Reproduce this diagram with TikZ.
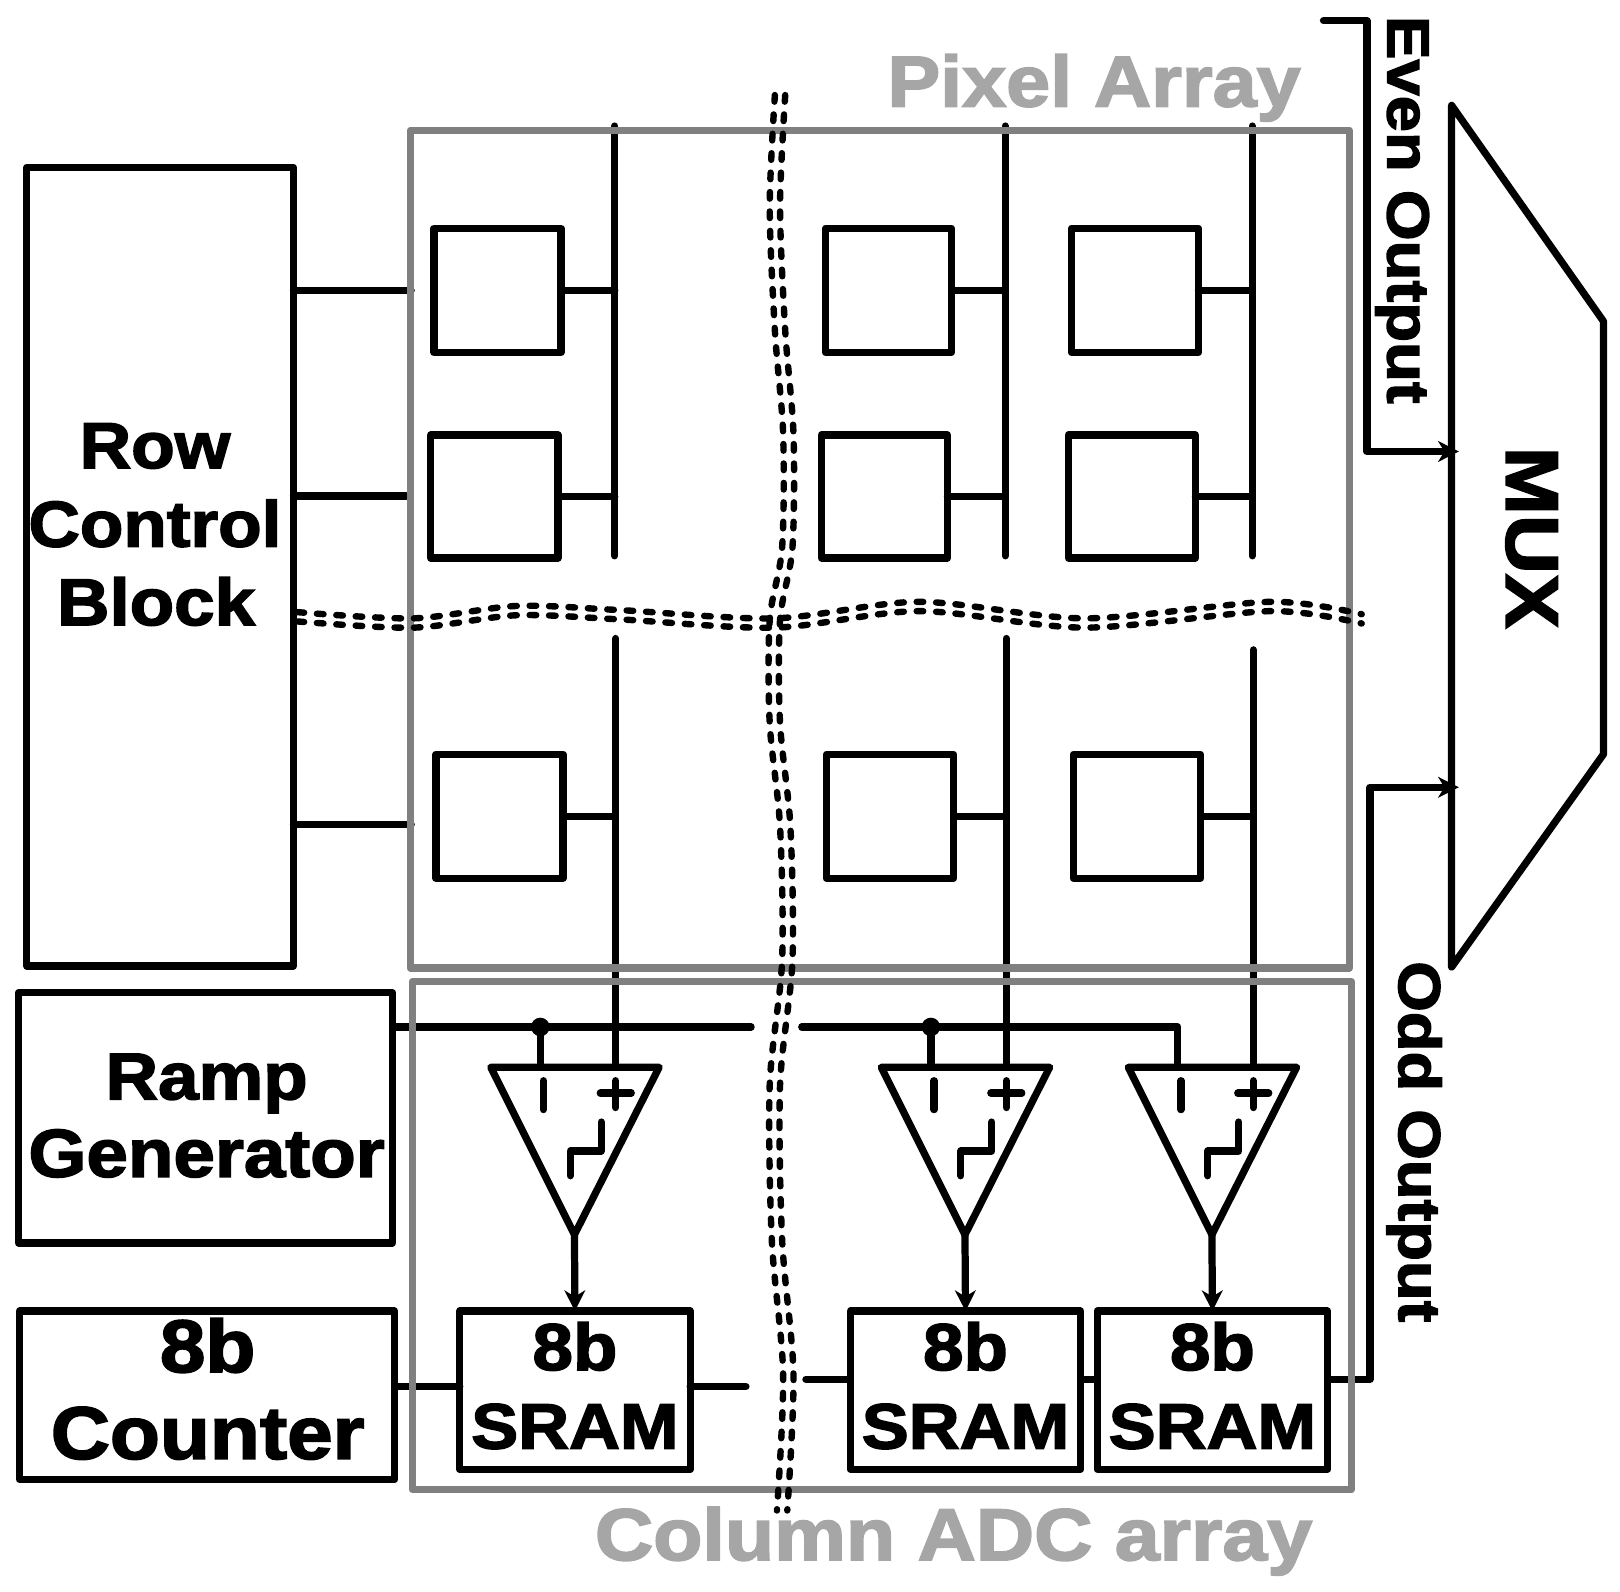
\documentclass[tikz,border=0pt]{standalone}
\usepackage{fontspec}
\usetikzlibrary{arrows.meta}
\newfontfamily\lf{Liberation Sans}[BoldFeatures={FakeStretch=1.1,FakeBold=2.4}]
\tikzset{
  blk/.style={line width=3.5pt,line cap=round,line join=round,black},
  gbox/.style={line width=3.5pt,line join=round,draw=gry},
  ibox/.style={draw=black,line width=3.5pt,line join=round,inner sep=0pt,outer sep=0pt,fill=none},
  lab/.style={inner sep=0pt,anchor=base,font=\lf\bfseries\fontsize{#1}{#1}\selectfont},
  rlab/.style={inner sep=0pt,anchor=base west,rotate=-90,font=\lf\bfseries\fontsize{#1}{#1}\selectfont},
  brk/.style={line width=3.1pt,line cap=round,dash pattern=on 3.2pt off 6.2pt,black},
  arr/.style={-{Stealth[length=10pt,width=10pt,inset=3pt]}}
}
\definecolor{gry}{HTML}{808080}
\definecolor{lgry}{HTML}{A6A6A6}
% name, x1, y1, x2, y2 : a box given by its corners
\newcommand{\cornerbox}[5]{\node[ibox,minimum width={(#4-#2-2)*0.5pt},minimum height={(#5-#3-2)*0.5pt}] (#1) at ({(#2+#4)/2},{(#3+#5)/2}) {};}
\begin{document}
\begin{tikzpicture}[x=0.5pt,y=-0.5pt]
\useasboundingbox (0,0) rectangle (1568,1540);
% blocks
\cornerbox{rowc}{25}{161}{285}{936}
\cornerbox{ramp}{17}{960}{381}{1204}
\cornerbox{cnt}{18}{1268}{383}{1433}
% pixels
\cornerbox{p11}{419}{220}{544}{342}
\cornerbox{p12}{798}{220}{922}{342}
\cornerbox{p13}{1036}{220}{1161}{342}
\cornerbox{p21}{416}{420}{541}{541}
\cornerbox{p22}{794}{420}{918}{541}
\cornerbox{p23}{1033}{420}{1158}{541}
\cornerbox{p31}{421}{729}{546}{851}
\cornerbox{p32}{799}{729}{924}{851}
\cornerbox{p33}{1038}{729}{1163}{851}
% SRAM
\cornerbox{s1}{444}{1268}{669}{1423}
\cornerbox{s2}{822}{1268}{1047}{1423}
\cornerbox{s3}{1061}{1268}{1286}{1423}
% column lines
\coordinate (v1t) at (595,122); \coordinate (v1b) at (595,538);
\coordinate (v2t) at (973,122); \coordinate (v2b) at (973,538);
\coordinate (v3t) at (1212,122); \coordinate (v3b) at (1212,538);
\coordinate (w1t) at (596,618); \coordinate (w2t) at (974,618); \coordinate (w3t) at (1213,629);
\draw[blk] (v1t)--(v1b) (v2t)--(v2b) (v3t)--(v3b);
\foreach \i/\c in {1/1,2/2,3/3}{
  \draw[blk] (p1\i.east)--(p1\i.east -| v\c t);
  \draw[blk] (p2\i.east)--(p2\i.east -| v\c t);
  \draw[blk] (p3\i.east)--(p3\i.east -| v\c t);
}
% row lines
\coordinate (r1) at (398,281); \coordinate (r2) at (393,480); \coordinate (r3) at (398,798);
\draw[blk] (rowc.east |- r1)--(r1);
\draw[blk] (rowc.east |- r2)--(r2);
\draw[blk] (rowc.east |- r3)--(r3);
% comparators
\foreach \i/\dx in {1/0,2/378,3/617}{
  \begin{scope}[shift={(\dx,0)}]
    \coordinate (a\i) at (475,1033);
    \coordinate (b\i) at (638,1033);
    \coordinate (c\i) at (556,1195);
    \coordinate (m\i) at (523,1033);
    \coordinate (q\i) at (596,1033);
    \draw[blk,fill=white] (a\i)--(b\i)--(c\i)--cycle;
    \draw[blk] (526,1046)--(526,1074);
    \draw[blk] (596,1046)--(596,1072) (581,1058)--(611,1058);
    \draw[blk] (582,1086)--(582,1114)--(552,1114)--(552,1138);
  \end{scope}
  \draw[blk,line cap=butt,arr] (c\i)--(s\i.north);
}
\draw[blk] (w1t)--(q1);
\draw[blk] (w2t)--(q2);
\draw[blk] (w3t)--(q3);
% ramp line
\coordinate (rgap1) at (727,994); \coordinate (rgap2) at (776,994);
\coordinate (d1) at (m1 |- rgap1); \coordinate (d2) at (m2 |- rgap1); \coordinate (d3) at (m3 |- rgap1);
\draw[blk] (ramp.east |- rgap1)--(rgap1);
\draw[blk] (rgap2)--(d3)--(m3);
\draw[blk] (d1)--(m1);
\draw[blk] (d2)--(m2);
\fill (d1) circle[radius=9];
\fill (d2) circle[radius=9];
% counter and data lines
\coordinate (cy) at (0,1342); \coordinate (dy) at (0,1335);
\coordinate (s1end) at (722,1342); \coordinate (s2start) at (780,1335);
\draw[blk] (cnt.east |- cy)--(s1.west |- cy);
\draw[blk] (s1.east |- cy)--(s1end);
\draw[blk] (s2start)--(s2.west |- dy);
\draw[blk] (s2.east |- dy)--(s3.west |- dy);
% MUX
\coordinate (mx1) at (1405,102); \coordinate (mx2) at (1552,311);
\coordinate (mx3) at (1552,730); \coordinate (mx4) at (1405,936);
\draw[blk] (mx1)--(mx2)--(mx3)--(mx4)--cycle;
\coordinate (ev0) at (1281,20); \coordinate (evc) at (1323,20);
\coordinate (evd) at (1323,437); \coordinate (evt) at (1412,437);
\draw[blk,arr] (ev0)--(evc)--(evd)--(evt);
\coordinate (odc) at (1326,1335); \coordinate (odd) at (1326,762); \coordinate (odt) at (1412,762);
\draw[blk,arr] (s3.east |- dy)--(odc)--(odd)--(odt);
% gray frames
\coordinate (pa1) at (397,126); \coordinate (pa2) at (1306,937);
\coordinate (ca1) at (399,950); \coordinate (ca2) at (1308,1442);
\draw[gbox] (pa1) rectangle (pa2);
\draw[gbox] (ca1) rectangle (ca2);
% break lines
\foreach \o in {-5,5}{
  \draw[brk,xshift=\o*0.5pt] plot[smooth] coordinates {(755,92) (750,200) (755,320) (763,420) (762,530) (750,600) (750,700) (760,800) (762,930) (750,1050) (752,1200) (763,1330) (757,1462)};
  \draw[brk,yshift=\o*0.45pt] plot[smooth] coordinates {(288,597) (400,603) (500,591) (600,595) (750,603) (890,587) (1050,603) (1230,587) (1318,599)};
}
% labels
\node[lab=31.4] (t1) at (150,453) {Row};
\node[lab=31.3] (t2) at (150,529) {Control};
\node[lab=32] (t3) at (151,605) {Block};
\node[lab=32] (t4) at (200,1064) {Ramp};
\node[lab=32.8] (t5) at (200,1139) {Generator};
\node[lab=36] (t6) at (201,1328) {8b};
\node[lab=36] (t7) at (201,1412) {Counter};
\foreach \i/\x in {1/556.5,2/934.5,3/1173.5}{
  \node[lab=32] (e\i) at (\x,1326) {8b};
  \node[lab=31] (f\i) at (\x,1402) {SRAM};
}
\node[lab=34.8,text=lgry] (t8) at (1059,103) {Pixel Array};
\node[lab=35.5,text=lgry] (t9) at (923,1510) {Column ADC array};
\node[rlab=28.7] (t10) at (1343,15) {Even Output};
\node[rlab=28.6] (t11) at (1354,930) {Odd Output};
\node[rlab=36] (t12) at (1458,432) {MUX};
\end{tikzpicture}
\end{document}
